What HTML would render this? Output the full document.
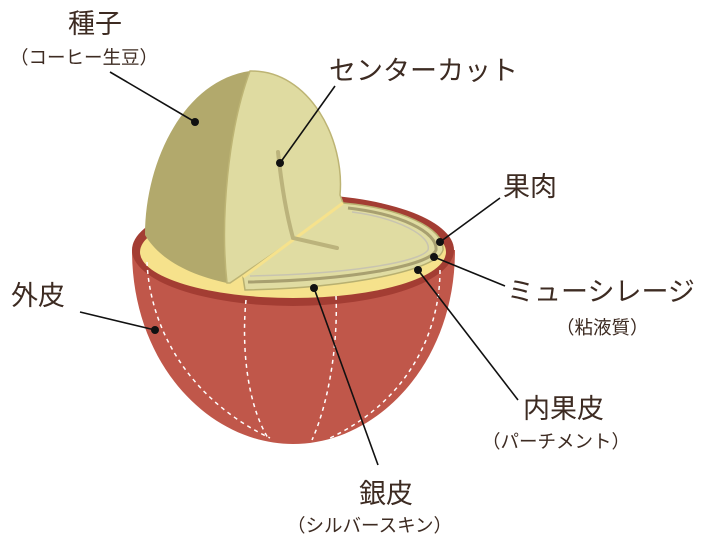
<!DOCTYPE html>
<html><head><meta charset="utf-8"><style>
body{margin:0;background:#fff}
svg{display:block}
text{font-family:"Liberation Sans","Noto Sans CJK JP",sans-serif;fill:#3d2b22}
</style></head><body>
<svg width="717" height="542" viewBox="0 0 717 542">
<path d="M132,250 C132,365 210,444 293,444 C376,444 455,365 455,250 Z" fill="#c0574a"/>
<ellipse cx="293" cy="250" rx="161" ry="56" fill="#a33d33"/>
<ellipse cx="293" cy="252" rx="153" ry="46" fill="#f6e28c"/>
<g fill="none" stroke="#fff" stroke-width="1.5" stroke-dasharray="4,4">
<path d="M147,262 C150,330 190,400 270,438"/>
<path d="M246,300 C242,340 245,400 268,438"/>
<path d="M336,296 C338,340 330,400 312,440"/>
<path d="M440,270 C440,330 410,400 330,438"/>
</g>
<path d="M343,203 C400,208 445,228 443,250 C438,270 350,288 245,290 L243,277 Z" fill="#e0dca2" stroke="#b8b070" stroke-width="1.5"/>
<path d="M348,208 C400,214 438,232 436,250 C430,266 350,280 248,282" fill="none" stroke="#a8a070" stroke-width="3"/>
<path d="M352,212 C398,218 432,236 428,250 C420,262 350,274 250,276" fill="none" stroke="#c8c4b0" stroke-width="1.5"/>
<path d="M145,235 C145,160 185,80 250,71 C228,130 220,220 227,283 C190,275 160,260 145,235 Z" fill="#b2a96c"/>
<path d="M250,71 C310,70 345,140 340,195 L343,203 L293,240 L230,283 L227,283 C220,220 228,130 250,71 Z" fill="#dfdba1" stroke="#bdb474" stroke-width="1.5"/>
<path d="M343,203 L293,240 L243,277" stroke="#f6e28c" stroke-width="3" fill="none"/>
<path d="M278,152 C282,190 288,220 293,238 L337,248" stroke="#bbb37c" stroke-width="4" fill="none" stroke-linecap="round"/>
<g stroke="#111" stroke-width="1.6">
<line x1="110" y1="72" x2="195" y2="122"/>
<line x1="335" y1="86" x2="280" y2="163"/>
<line x1="500" y1="198" x2="440" y2="242"/>
<line x1="505" y1="286" x2="434" y2="257"/>
<line x1="518" y1="400" x2="418" y2="270"/>
<line x1="378" y1="465" x2="314" y2="288"/>
<line x1="80" y1="312" x2="155" y2="330"/>
</g>
<g fill="#111">
<circle cx="195" cy="122" r="4"/><circle cx="280" cy="163" r="4"/><circle cx="440" cy="242" r="4"/>
<circle cx="434" cy="257" r="4"/><circle cx="418" cy="270" r="4"/><circle cx="314" cy="288" r="4"/><circle cx="155" cy="330" r="4"/>
</g>
<text x="68" y="33" font-size="27">種子</text>
<text x="10" y="64" font-size="18.5">（コーヒー生豆）</text>
<text x="329" y="80" font-size="27">センターカット</text>
<text x="503" y="196" font-size="27">果肉</text>
<text x="507" y="301" font-size="27">ミューシレージ</text>
<text x="556" y="334" font-size="18.5">（粘液質）</text>
<text x="11" y="305" font-size="27">外皮</text>
<text x="523" y="418" font-size="27">内果皮</text>
<text x="482" y="448" font-size="18.5">（パーチメント）</text>
<text x="359" y="503" font-size="27">銀皮</text>
<text x="287" y="532" font-size="18.5">（シルバースキン）</text>
</svg>
</body></html>
